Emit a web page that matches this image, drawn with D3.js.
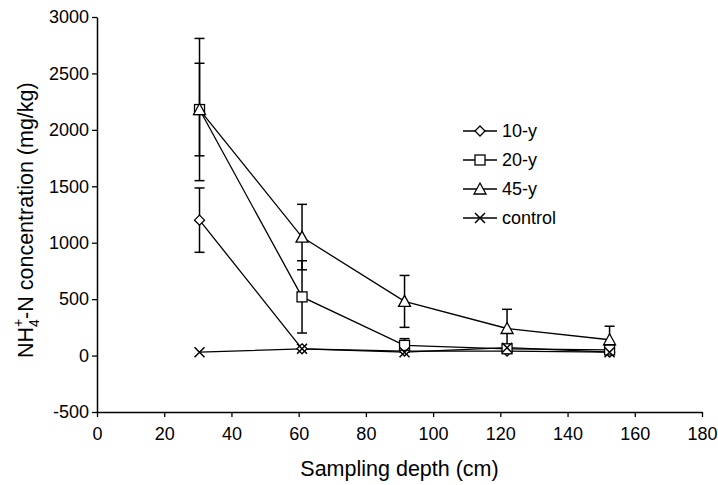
<!DOCTYPE html>
<html>
<head>
<meta charset="utf-8">
<script src="https://cdn.jsdelivr.net/npm/d3@7"></script>
<style>
  body { margin: 0; background: #fff; }
  text { font-family: "Liberation Sans", Arial, sans-serif; fill: #000; }
</style>
</head>
<body>
<div id="chart"></div>
<script>
// depths (cm) and the four series
var depths = [30.5, 61, 91.5, 122, 152.5];

var y10 = [1200, 60, 40, 40, 30];
var e10 = [285, 0, 0, 0, 0];

var y20 = [2180, 520, 90, 60, 50];
var e20 = [410, 320, 60, 0, 0];

var y45 = [2180, 1050, 480, 240, 140];
var e45 = [630, 290, 230, 170, 120];

var yCtl = [30, 60, 30, 70, 30];

var xTicks = [0, 20, 40, 60, 80, 100, 120, 140, 160, 180];
var yTicks = [-500, 0, 500, 1000, 1500, 2000, 2500, 3000];

var seriesNames = ["10-y", "20-y", "45-y", "control"];
var seriesShapes = ["diamond", "square", "triangle", "cross"];

var width = 718, height = 485;
var margin = {top: 17, left: 97, right: 16, bot: 73};

var svg = d3.select("#chart").append("svg")
    .attr("width", width)
    .attr("height", height);

var x = d3.scaleLinear().domain([0, 180]).range([margin.left, width - margin.right]);
var y = d3.scaleLinear().domain([-500, 3000]).range([height - margin.bot, margin.top]);

function plain(d) { return String(d); }

// axes
var xAxis = svg.append("g")
    .attr("transform", "translate(0," + y(-500) + ")")
    .call(d3.axisBottom(x).tickValues(xTicks).tickFormat(plain)
          .tickSize(5).tickPadding(10).tickSizeOuter(0));
var yAxis = svg.append("g")
    .attr("transform", "translate(" + x(0) + ",0)")
    .call(d3.axisLeft(y).tickValues(yTicks).tickFormat(plain)
          .tickSize(5).tickPadding(3).tickSizeOuter(0));

[xAxis, yAxis].forEach(function(a) {
    a.select(".domain").attr("stroke", "#000").attr("stroke-width", 1.5);
    a.selectAll(".tick line").attr("stroke", "#000").attr("stroke-width", 1.3);
    a.selectAll(".tick text")
        .style("font-family", "Liberation Sans, Arial, sans-serif")
        .style("font-size", "18px")
        .attr("fill", "#000");
});

// axis titles
svg.append("text")
    .attr("x", (x(0) + x(180)) / 2)
    .attr("y", 476)
    .attr("text-anchor", "middle")
    .style("font-size", "21.5px")
    .text("Sampling depth (cm)");

var yt = svg.append("text")
    .attr("transform", "translate(33," + y(1200) + ") rotate(-90)")
    .attr("text-anchor", "middle")
    .style("font-size", "21.5px");
yt.append("tspan").text("NH");
yt.append("tspan").attr("dy", 6).style("font-size", "14px").text("4");
yt.append("tspan").attr("dx", -8).attr("dy", -16).style("font-size", "14px").text("+");
yt.append("tspan").attr("dy", 10).text("-N concentration (mg/kg)");

// markers
function drawMarker(g, shape, cx, cy) {
    if (shape == "diamond") {
        g.append("path")
            .attr("d", "M" + cx + "," + (cy - 5) + "L" + (cx + 5) + "," + cy +
                  "L" + cx + "," + (cy + 5) + "L" + (cx - 5) + "," + cy + "Z")
            .attr("fill", "#fff").attr("stroke", "#000").attr("stroke-width", 1.3);
    } else if (shape == "square") {
        g.append("rect")
            .attr("x", cx - 5).attr("y", cy - 5)
            .attr("width", 10).attr("height", 10)
            .attr("fill", "#fff").attr("stroke", "#000").attr("stroke-width", 1.3);
    } else if (shape == "triangle") {
        g.append("path")
            .attr("d", "M" + cx + "," + (cy - 6) + "L" + (cx + 6) + "," + (cy + 5) +
                  "L" + (cx - 6) + "," + (cy + 5) + "Z")
            .attr("fill", "#fff").attr("stroke", "#000").attr("stroke-width", 1.3);
    } else {
        g.append("path")
            .attr("d", "M" + (cx - 5) + "," + (cy - 5) + "L" + (cx + 5) + "," + (cy + 5) +
                  "M" + (cx + 5) + "," + (cy - 5) + "L" + (cx - 5) + "," + (cy + 5))
            .attr("fill", "none").attr("stroke", "#000").attr("stroke-width", 1.5);
    }
}

var series = [
    {vals: y10, err: e10},
    {vals: y20, err: e20},
    {vals: y45, err: e45},
    {vals: yCtl, err: [0, 0, 0, 0, 0]}
];

var plot = svg.append("g");
var line = d3.line()
    .x(function(d, i) { return x(depths[i]); })
    .y(function(d) { return y(d); });

// error bars first
series.forEach(function(s) {
    s.vals.forEach(function(v, i) {
        if (!s.err[i]) return;
        var cx = x(depths[i]);
        var y1 = y(v + s.err[i]), y2 = y(Math.max(v - s.err[i], -500));
        plot.append("line")
            .attr("x1", cx).attr("x2", cx).attr("y1", y1).attr("y2", y2)
            .attr("stroke", "#000").attr("stroke-width", 1.5);
        [y1, y2].forEach(function(yy) {
            plot.append("line")
                .attr("x1", cx - 5).attr("x2", cx + 5).attr("y1", yy).attr("y2", yy)
                .attr("stroke", "#000").attr("stroke-width", 1.5);
        });
    });
});

// lines and markers
series.forEach(function(s, k) {
    plot.append("path")
        .datum(s.vals)
        .attr("d", line)
        .attr("fill", "none")
        .attr("stroke", "#000")
        .attr("stroke-width", 1.3);
});
series.forEach(function(s, k) {
    s.vals.forEach(function(v, i) {
        drawMarker(plot, seriesShapes[k], x(depths[i]), y(v));
    });
});

// legend
var leg = svg.append("g");
seriesNames.forEach(function(name, k) {
    var ly = 131 + k * 29;
    leg.append("line")
        .attr("x1", 463).attr("x2", 497).attr("y1", ly).attr("y2", ly)
        .attr("stroke", "#000").attr("stroke-width", 1.3);
    drawMarker(leg, seriesShapes[k], 480, ly);
    leg.append("text")
        .attr("x", 502).attr("y", ly + 6)
        .style("font-size", "18px")
        .text(name);
});
</script>
</body>
</html>
